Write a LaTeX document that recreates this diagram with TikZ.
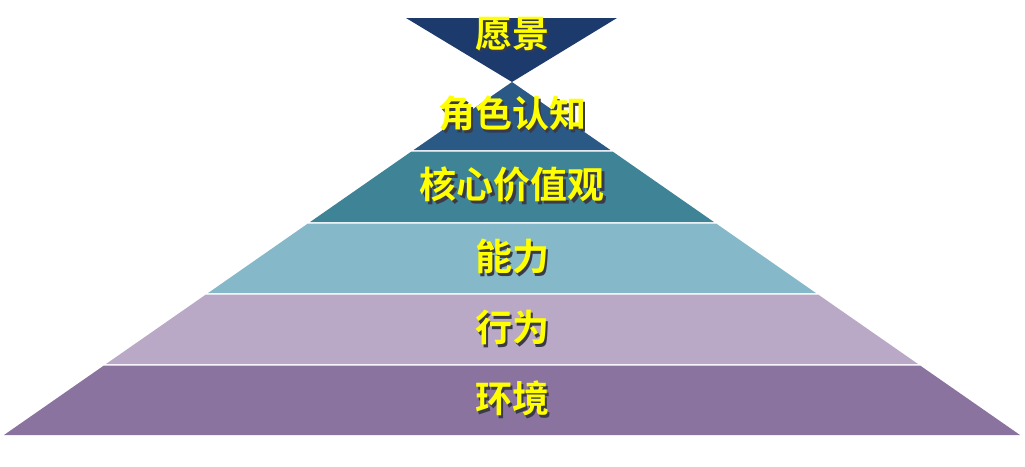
\documentclass[tikz,border=0pt]{standalone}
\usepackage{fontspec}
\newfontfamily\cjk{Noto Sans CJK SC}[BoldFont={Noto Sans CJK SC Bold}]
\definecolor{cTop}{HTML}{1D3A6C}
\definecolor{cRole}{HTML}{2A5985}
\definecolor{cCore}{HTML}{3F8397}
\definecolor{cAbil}{HTML}{85B8C8}
\definecolor{cBeh}{HTML}{B9A9C6}
\definecolor{cEnv}{HTML}{8B739F}
\definecolor{cText}{HTML}{FFFF00}
\definecolor{cShadow}{HTML}{3A3A48}
\newcommand{\shadowtxt}[1]{\makebox[0pt][l]{\hspace*{2.5pt}\raisebox{-2.5pt}{\color{cShadow}#1}}#1}
\begin{document}
\begin{tikzpicture}[x=1pt,y=-1pt,
  lbl/.style={font=\cjk\bfseries\fontsize{37}{40}\selectfont,text=cText,inner sep=0pt}]
\useasboundingbox (0,0) rectangle (1025,466);
% top inverted triangle
\fill[cTop] (406,18) -- (617,18) -- (512,82) -- cycle;
% layers
\fill[cRole] (512,82) -- (610.4,150) -- (413.6,150) -- cycle;
\fill[cCore] (411.4,151.5) -- (612.6,151.5) -- (713.9,222) -- (310.1,222) -- cycle;
\fill[cAbil] (307.9,223.5) -- (716.1,223.5) -- (815.9,293) -- (208.1,293) -- cycle;
\fill[cBeh] (205.9,294.5) -- (818.1,294.5) -- (918,364) -- (106,364) -- cycle;
\fill[cEnv] (103.9,365.5) -- (920.1,365.5) -- (1020,435) -- (4,435) -- cycle;
% labels
\node[lbl] (vision) at (512,35) {\shadowtxt{愿景}};
\node[lbl] (role) at (512,115) {\shadowtxt{角色认知}};
\node[lbl] (core) at (512,186) {\shadowtxt{核心价值观}};
\node[lbl] (ability) at (512,258) {\shadowtxt{能力}};
\node[lbl] (behavior) at (512,329) {\shadowtxt{行为}};
\node[lbl] (env) at (512,400) {\shadowtxt{环境}};
\end{tikzpicture}
\end{document}
